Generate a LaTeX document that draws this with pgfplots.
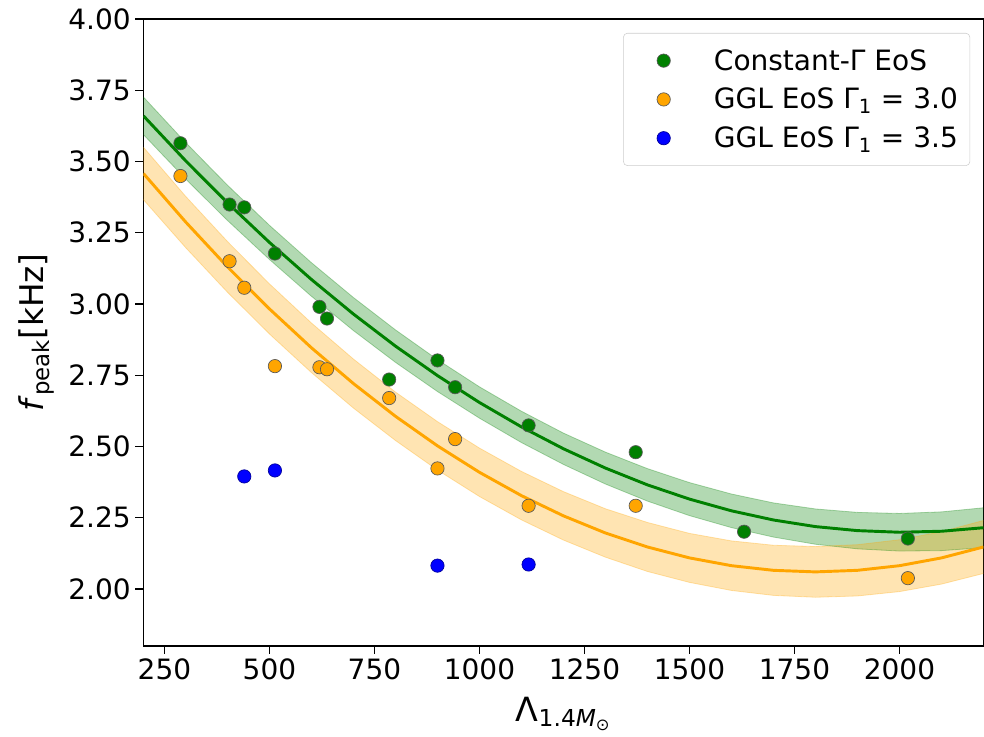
\documentclass[border=0pt]{standalone}
\usepackage{fontspec}
\setmainfont{DejaVu Sans}
\usepackage{pgfplots}
\usepackage{pgfplotstable}
\pgfplotsset{compat=1.18}
\usepgfplotslibrary{fillbetween}

\definecolor{mgreen}{HTML}{008000}
\definecolor{morange}{HTML}{FFA500}
\definecolor{mblue}{HTML}{0000FF}

\pgfplotstableread{
x g gw o ow
200 3.6600 0.066 3.4578 0.092
300 3.5031 0.064 3.2885 0.090
400 3.3551 0.062 3.1302 0.089
500 3.2160 0.060 2.9827 0.088
600 3.0859 0.059 2.8462 0.087
700 2.9646 0.058 2.7207 0.086
800 2.8522 0.057 2.6060 0.085
900 2.7488 0.056 2.5023 0.085
1000 2.6543 0.055 2.4094 0.085
1100 2.5687 0.055 2.3275 0.085
1200 2.4920 0.055 2.2566 0.085
1300 2.4242 0.056 2.1965 0.085
1400 2.3653 0.057 2.1474 0.086
1500 2.3154 0.058 2.1091 0.086
1600 2.2743 0.059 2.0818 0.087
1700 2.2421 0.060 2.0655 0.088
1800 2.2189 0.062 2.0600 0.089
1900 2.2048 0.064 2.0655 0.090
2000 2.1991 0.066 2.0818 0.091
2100 2.2026 0.068 2.1091 0.092
2200 2.2150 0.070 2.1474 0.093
}\fits

\pgfplotstableread{
x y
288 3.564
405 3.349
440 3.339
513 3.177
619 2.990
637 2.949
785 2.735
900 2.802
942 2.708
1117 2.574
1372 2.480
1630 2.201
2020 2.177
}\green

\pgfplotstableread{
x y
288 3.449
405 3.150
440 3.057
513 2.782
619 2.778
637 2.771
785 2.670
900 2.423
942 2.526
1117 2.292
1372 2.292
2020 2.038
}\orange

\pgfplotstableread{
x y
440 2.395
513 2.416
900 2.082
1117 2.086
}\blue

\pgfplotsset{
  myleg/.style={legend image code/.code={\path (0pt,0pt) (32pt,0pt); \draw[##1, opacity=1, fill opacity=1, draw opacity=1] plot coordinates {(23pt,0pt)};}},
}

\begin{document}
\begin{tikzpicture}
\begin{axis}[
  name=ax,
  scale only axis,
  width=630pt, height=470.25pt,
  xmin=200, xmax=2200, ymin=1.8, ymax=4.0,
  xtick={250,500,750,1000,1250,1500,1750,2000},
  ytick={2,2.25,2.5,2.75,3,3.25,3.5,3.75,4},
  tick align=outside, tick pos=left,
  major tick length=6pt,
  every tick/.style={black, line width=0.8pt},
  axis line style={line width=0.8pt},
  /pgf/number format/assume math mode=true,
  ticklabel style={font=\fontsize{21}{25}\selectfont},
  yticklabel style={/pgf/number format/.cd, fixed, fixed zerofill, precision=2},
  xticklabel style={/pgf/number format/1000 sep={}},
  xlabel={Λ\textsubscript{1.4\textit{M}\textsubscript{⊙}}},
  ylabel={\textit{f}\textsubscript{peak}[kHz]},
  xlabel style={font=\fontsize{25}{30}\selectfont, yshift=-6pt},
  ylabel style={font=\fontsize{24.5}{30}\selectfont, yshift=4pt},
  legend cell align=left,
  legend style={at={(rel axis cs:1,1)}, xshift=-10pt, yshift=-10.5pt, anchor=north east,
    draw=black!20, rounded corners=3pt, fill=white, fill opacity=0.8, text opacity=1,
    font=\fontsize{21}{25}\selectfont, inner xsep=7pt, inner ysep=10pt, row sep=8pt,
    column sep=26.5pt, nodes={inner sep=2pt}},
]
% green band
\addplot[name path=gu, draw=mgreen, draw opacity=0.3, line width=0.6pt, forget plot] table[x=x, y expr=\thisrow{g}+\thisrow{gw}] {\fits};
\addplot[name path=gl, draw=mgreen, draw opacity=0.3, line width=0.6pt, forget plot] table[x=x, y expr=\thisrow{g}-\thisrow{gw}] {\fits};
\addplot[fill=mgreen, fill opacity=0.3, draw=none, forget plot] fill between[of=gu and gl];
% orange band
\addplot[name path=ou, draw=morange, draw opacity=0.3, line width=0.6pt, forget plot] table[x=x, y expr=\thisrow{o}+\thisrow{ow}] {\fits};
\addplot[name path=ol, draw=morange, draw opacity=0.3, line width=0.6pt, forget plot] table[x=x, y expr=\thisrow{o}-\thisrow{ow}] {\fits};
\addplot[fill=morange, fill opacity=0.3, draw=none, forget plot] fill between[of=ou and ol];
% lines
\addplot[mgreen, line width=2.2pt, forget plot] table[x=x, y=g] {\fits};
\addplot[morange, line width=2.2pt, forget plot] table[x=x, y=o] {\fits};
% points
\addplot[only marks, mark=*, mark size=5pt, mark options={fill=mgreen, draw=black!65, line width=0.5pt}, myleg] table[x=x, y=y] {\green};
\addlegendentry{Constant-Γ EoS}
\addplot[only marks, mark=*, mark size=5pt, mark options={fill=morange, draw=black!65, line width=0.5pt}, myleg] table[x=x, y=y] {\orange};
\addlegendentry{GGL EoS Γ\textsubscript{1} = 3.0}
\addplot[only marks, mark=*, mark size=5pt, mark options={fill=mblue, draw=mblue!60!black, line width=0.5pt}, myleg] table[x=x, y=y] {\blue};
\addlegendentry{GGL EoS Γ\textsubscript{1} = 3.5}
\end{axis}
\pgfresetboundingbox
\path ([xshift=-107.6pt,yshift=-68.25pt]ax.south west) rectangle ([xshift=0.4pt,yshift=14.25pt]ax.north east);
\end{tikzpicture}
\end{document}
